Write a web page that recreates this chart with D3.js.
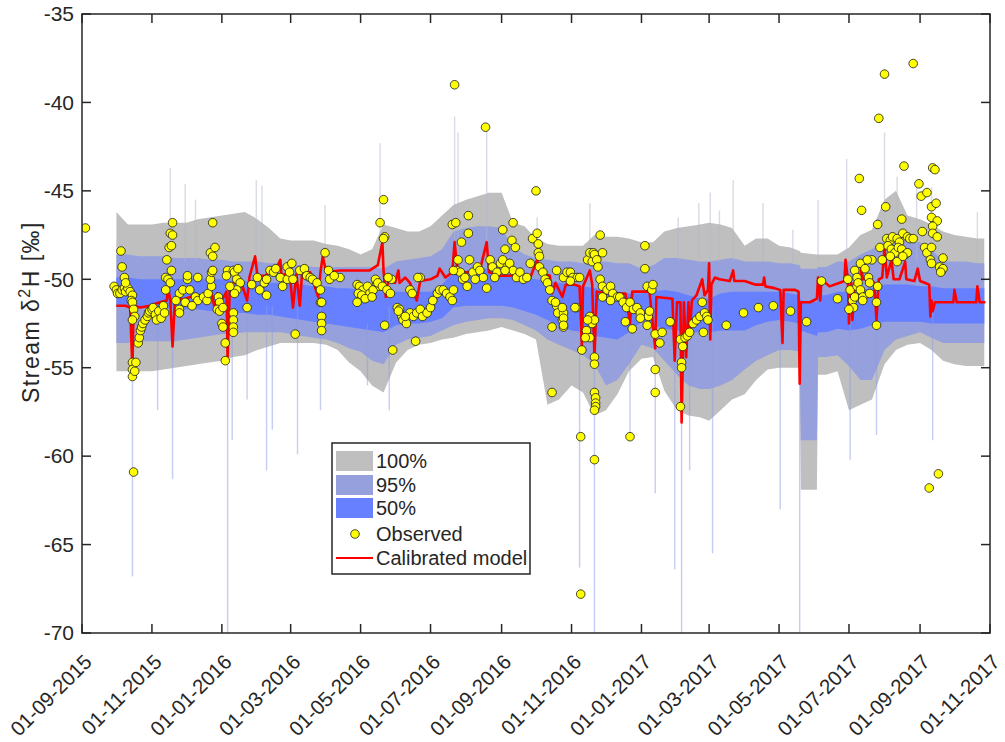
<!DOCTYPE html>
<html><head><meta charset="utf-8">
<script src="https://cdn.jsdelivr.net/npm/d3@7"></script>
<style>
body{margin:0;background:#fff;}
text{font-family:"Liberation Sans",Arial,Helvetica,sans-serif;fill:#262626;}
</style>
</head><body>
<svg id="chart" width="1005" height="742"></svg>
<script>
// ---------------- data ----------------
const START = "2015-09-01";           // day 0 of every *Day array
const END = "2017-11-01";
const yTicks = [-70, -65, -60, -55, -50, -45, -40, -35];
const xTickLabelFormat = "%d-%m-%Y";
const legendLabels = ["100%", "95%", "50%", "Observed", "Calibrated model"];

// uncertainty bands (days since START)
const bandDay = [30,40,50,61,71,81,91,101,111,122,132,142,153,163,173,182,192,202,213,223,233,243,253,263,274,284,294,304,314,324,335,345,355,366,376,386,396,406,416,427,437,447,457,467,477,488,498,508,519,529,539,547,557,567,578,588,598,608,618,626,627,641,642,649,659,669,679,689,700,710,720,731,741,751,761,771,781,787];
const p100Hi = [-46.2,-46.9,-46.9,-46.9,-46.8,-46.8,-46.8,-46.6,-46.5,-46.4,-46.3,-46.2,-46.6,-47.1,-47.7,-47.8,-47.8,-47.8,-48.0,-48.1,-48.3,-48.6,-48.3,-46.9,-47.1,-47.3,-47.3,-47.0,-46.4,-45.8,-45.5,-45.3,-45.1,-45.1,-46.8,-47.0,-47.7,-48.0,-48.1,-48.1,-48.1,-47.5,-47.6,-47.6,-47.7,-47.9,-47.9,-47.3,-47.1,-47.0,-46.9,-46.8,-46.9,-47.1,-48.1,-47.7,-47.7,-48.1,-48.2,-48.4,-48.5,-48.6,-48.6,-48.6,-48.6,-48.2,-47.5,-47.2,-45.5,-45.0,-46.4,-46.6,-46.9,-47.3,-47.5,-47.6,-47.7,-47.7];
const p95Hi = [-48.6,-48.6,-48.7,-48.7,-48.7,-48.8,-48.8,-48.8,-48.9,-48.9,-49.0,-49.0,-49.0,-49.1,-49.1,-49.2,-49.2,-49.3,-49.3,-49.3,-49.3,-49.3,-49.3,-49.4,-49.0,-48.9,-48.8,-48.7,-48.3,-47.3,-47.1,-47.0,-47.0,-47.1,-48.2,-48.6,-48.8,-48.9,-49.0,-49.0,-49.1,-49.0,-49.0,-49.1,-49.1,-49.4,-49.2,-48.8,-48.8,-48.9,-49.0,-49.0,-48.9,-48.8,-49.0,-49.0,-49.0,-49.1,-49.1,-49.2,-49.4,-49.4,-49.3,-49.3,-49.0,-49.0,-48.6,-48.3,-47.8,-47.7,-47.8,-47.9,-48.3,-49.0,-49.0,-49.0,-49.1,-49.1];
const p50Hi = [-49.9,-49.9,-50.0,-50.0,-50.0,-50.0,-50.0,-50.0,-50.0,-50.0,-50.1,-50.1,-50.2,-50.2,-50.2,-50.3,-50.3,-50.4,-50.4,-50.5,-50.5,-50.6,-50.7,-50.7,-50.7,-50.7,-50.7,-50.7,-50.3,-49.6,-49.5,-49.4,-49.4,-49.5,-49.8,-49.9,-50.0,-50.1,-50.2,-50.3,-50.4,-50.5,-50.6,-50.7,-50.8,-50.8,-50.7,-50.6,-50.7,-50.9,-51.1,-51.1,-50.8,-50.7,-50.7,-50.7,-50.7,-50.7,-50.8,-50.9,-51.2,-51.3,-50.9,-50.9,-50.7,-50.7,-50.6,-50.5,-50.3,-50.3,-50.3,-50.4,-50.4,-50.5,-50.5,-50.5,-50.5,-50.5];
const p50Lo = [-51.5,-51.6,-51.6,-51.6,-51.6,-51.7,-51.7,-51.7,-51.8,-51.8,-51.9,-51.9,-52.0,-52.0,-52.1,-52.2,-52.3,-52.4,-52.5,-52.6,-52.7,-52.8,-52.9,-53.0,-52.6,-52.5,-52.5,-52.4,-52.2,-51.6,-51.5,-51.5,-51.5,-51.5,-51.6,-51.8,-52.0,-52.3,-52.6,-52.9,-53.0,-53.2,-53.3,-53.4,-53.0,-52.4,-52.6,-52.8,-52.9,-53.0,-53.0,-53.0,-52.9,-52.9,-52.9,-52.6,-52.4,-52.3,-52.4,-52.5,-52.9,-53.2,-53.0,-53.0,-52.8,-52.9,-52.8,-52.6,-52.4,-52.4,-52.4,-52.4,-52.5,-52.5,-52.5,-52.5,-52.5,-52.5];
const p95Lo = [-53.6,-53.6,-53.5,-53.5,-53.5,-53.5,-53.4,-53.3,-53.2,-53.1,-53.1,-53.0,-53.0,-53.0,-53.0,-53.1,-53.2,-53.3,-53.4,-53.6,-53.9,-54.1,-54.6,-54.8,-53.7,-53.4,-53.3,-53.2,-52.9,-52.6,-52.4,-52.3,-52.2,-52.2,-52.3,-52.6,-52.9,-53.4,-53.7,-54.0,-54.3,-54.8,-56.0,-55.7,-54.8,-53.7,-53.9,-54.6,-55.4,-56.0,-56.2,-56.2,-56.0,-55.7,-55.1,-54.6,-54.3,-54.0,-54.0,-54.1,-59.1,-59.1,-54.4,-54.4,-54.3,-54.9,-55.7,-55.7,-54.0,-53.4,-53.2,-53.0,-53.3,-53.6,-53.6,-53.6,-53.6,-53.6];
const p100Lo = [-55.2,-55.2,-55.2,-55.2,-55.1,-55.0,-54.9,-54.8,-54.7,-54.6,-54.4,-54.3,-54.0,-53.8,-53.6,-53.6,-53.6,-53.6,-53.7,-54.0,-54.7,-55.2,-56.0,-56.4,-54.7,-54.0,-53.7,-53.6,-53.4,-53.3,-53.1,-53.0,-52.9,-52.7,-52.9,-53.1,-53.4,-57.1,-56.8,-56.0,-56.4,-57.7,-57.4,-56.5,-55.2,-54.5,-54.4,-56.3,-57.4,-57.7,-57.8,-58.0,-57.4,-56.8,-56.5,-55.7,-55.1,-55.0,-55.0,-55.0,-61.9,-61.9,-55.4,-55.4,-55.2,-57.4,-57.1,-56.8,-54.8,-54.0,-53.7,-53.6,-54.0,-54.6,-54.8,-54.9,-54.9,-54.9];

// short-lived ensemble excursions (days since START)
const spikeDay = [44,66,77,79,90,99,127,131,144,152,157,161,166,188,208,212,249,260,268,325,328,353,397,434,443,447,478,500,517,520,523,530,538,548,550,556,568,594,609,620,626,642,667,670,693,700,711,728,741,742,781];
const spikeHi  = [-51.5,-51.5,-43.7,-51.5,-44.6,-45.5,-51.5,-51.5,-51.5,-44.4,-44.7,-51.5,-51.5,-51.5,-51.5,-45.8,-52.5,-42.3,-51.5,-40.8,-41.7,-41.4,-46.5,-51.5,-45.7,-51.5,-51.5,-51.5,-51.5,-46.5,-51.5,-51.5,-45.7,-45.1,-51.5,-46.1,-44.4,-45.7,-51.5,-47.2,-51.5,-45.5,-43.2,-51.5,-51.5,-41.7,-44.2,-44.6,-44.8,-51.5,-46.2];
const spikeLo  = [-66.8,-57.4,-49.0,-61.3,-49.0,-49.0,-70.0,-59.1,-56.8,-49.0,-49.0,-60.8,-58.5,-59.9,-57.4,-49.0,-56.0,-49.5,-57.4,-49.0,-49.0,-49.0,-49.0,-66.3,-49.0,-70.0,-58.9,-62.1,-66.4,-49.0,-70.0,-60.8,-49.0,-49.0,-65.5,-49.0,-49.0,-49.0,-63.0,-49.0,-70.0,-49.0,-49.0,-60.2,-58.8,-49.0,-49.0,-49.0,-49.0,-59.1,-49.0];

// calibrated model
const modelDay = [30,38,42,44,45,51,59,68,74,75,77,79,81,90,99,107,113,116,118,122,126,127,129,133,138,144,146,151,153,160,164,168,173,174,181,184,187,190,192,199,206,208,210,213,225,238,251,258,262,263,265,267,273,276,277,282,286,292,295,304,310,312,317,323,325,327,330,338,347,353,355,365,373,382,391,397,399,408,410,413,419,422,429,434,436,437,443,445,447,449,460,474,478,480,495,500,501,515,517,519,522,523,525,527,529,530,532,536,541,543,546,547,548,549,552,556,565,568,569,578,587,594,595,596,604,609,611,612,622,625,626,627,635,641,642,644,645,652,661,665,666,668,669,671,672,674,679,680,681,687,691,693,695,698,700,702,706,708,713,718,719,726,729,731,735,739,740,741,742,744,748,757,760,761,763,770,780,781,783,788];
const modelVal = [-51.5,-51.5,-51.6,-55.1,-51.5,-51.6,-51.5,-51.3,-51.2,-50.4,-51.2,-53.8,-51.2,-51.1,-50.9,-50.9,-50.8,-51.7,-50.8,-51.2,-50.7,-54.4,-50.3,-50.2,-50.0,-51.2,-49.9,-48.7,-49.8,-49.8,-49.5,-49.6,-48.9,-49.8,-49.6,-51.6,-49.7,-51.5,-49.6,-49.6,-51.0,-49.6,-48.7,-49.6,-49.5,-49.5,-49.5,-49.2,-47.9,-49.5,-51.0,-50.1,-50.2,-49.5,-50.2,-49.9,-50.2,-51.2,-50.1,-50.0,-49.8,-49.4,-49.9,-49.6,-47.9,-49.2,-49.6,-49.6,-49.5,-47.9,-49.6,-49.8,-49.8,-49.7,-49.9,-48.9,-49.6,-49.8,-50.8,-50.2,-51.0,-50.3,-50.3,-50.4,-53.8,-50.4,-49.5,-50.3,-54.4,-50.7,-50.8,-50.8,-52.5,-50.7,-50.7,-53.9,-51.0,-51.1,-54.6,-51.3,-51.3,-58.1,-51.3,-54.4,-51.3,-53.0,-51.2,-50.9,-50.0,-50.9,-50.6,-49.1,-53.4,-50.3,-49.9,-50.0,-50.1,-49.5,-50.1,-50.1,-50.3,-50.3,-49.9,-50.4,-50.5,-50.6,-53.6,-50.6,-50.6,-50.7,-55.9,-51.3,-51.3,-51.1,-49.9,-51.2,-50.0,-50.4,-50.2,-50.1,-48.9,-50.0,-52.5,-50.2,-52.3,-50.2,-50.0,-49.3,-50.0,-50.0,-50.2,-52.3,-50.0,-49.9,-48.2,-49.9,-48.9,-50.0,-50.0,-49.0,-50.0,-50.1,-49.4,-50.1,-50.2,-50.3,-52.1,-51.2,-51.8,-51.3,-51.3,-51.3,-51.3,-50.6,-51.3,-51.3,-51.3,-50.4,-51.3,-51.3];

// observations
const obsDay = [3,28,30,31,33,35,37,38,40,42,44,43,44,34,35,37,38,45,46,44,44,44,44,46,47,45,49,50,51,52,53,55,57,58,59,61,62,64,65,67,69,71,72,79,77,79,76,78,74,78,73,75,77,73,85,88,92,94,99,101,106,109,110,113,112,113,114,112,114,116,114,101,92,85,85,82,90,96,119,120,118,120,123,122,123,132,132,132,132,125,125,127,132,133,136,135,138,135,133,129,126,144,148,155,159,161,164,167,169,173,175,179,179,183,181,184,186,161,153,190,194,196,199,201,205,208,208,209,209,209,209,212,215,216,225,220,240,242,245,249,251,254,257,260,241,244,247,253,240,256,258,262,266,269,270,267,260,263,264,263,264,271,275,277,279,280,283,286,289,292,295,297,301,304,306,310,312,315,318,321,323,324,286,288,295,282,276,291,293,323,326,337,337,325,352,327,330,332,336,338,341,345,347,350,353,356,358,362,365,367,371,373,376,379,382,385,388,391,324,328,331,334,343,360,369,367,375,376,378,369,396,393,397,398,398,399,399,402,404,406,408,410,414,410,414,415,419,420,420,419,420,423,426,428,432,434,426,431,420,420,413,410,430,436,435,435,441,443,445,446,447,449,450,452,454,443,445,440,443,447,439,441,447,447,447,448,448,448,447,447,452,454,458,461,463,467,469,472,475,478,481,484,487,454,461,474,480,493,494,487,478,491,491,493,497,498,495,500,504,506,500,500,513,522,524,526,528,530,533,536,539,541,543,545,546,542,523,523,522,562,577,590,603,618,632,645,659,668,670,672,673,674,676,674,676,677,679,681,681,669,678,680,679,683,686,687,689,685,693,693,694,687,695,700,725,694,701,696,702,705,707,711,713,716,720,722,725,703,706,709,712,715,718,720,711,716,705,698,715,717,733,730,732,737,741,745,741,746,742,742,746,742,744,735,737,740,741,751,748,750,751,749,741,747,739];
const obsVal = [-47.1,-50.4,-50.6,-50.8,-50.8,-50.6,-50.5,-50.7,-50.5,-50.7,-50.9,-51.2,-51.3,-48.4,-49.3,-49.9,-50.2,-51.7,-52.1,-52.3,-54.7,-55.1,-55.5,-55.2,-54.7,-60.9,-53.6,-53.3,-52.9,-52.7,-52.5,-52.3,-52.1,-51.9,-51.8,-51.7,-51.6,-52.0,-52.3,-51.8,-52.2,-51.5,-51.9,-46.8,-47.4,-47.5,-48.2,-48.1,-48.9,-49.5,-49.9,-50.0,-50.2,-50.6,-50.8,-50.6,-50.0,-50.6,-51.0,-51.2,-51.0,-51.2,-50.8,-50.4,-50.0,-49.6,-49.5,-48.5,-48.7,-48.2,-46.8,-49.9,-49.8,-51.7,-51.9,-51.2,-51.3,-51.5,-51.0,-51.3,-51.7,-51.8,-51.6,-52.5,-52.7,-51.9,-52.3,-52.7,-53.0,-53.6,-54.6,-49.5,-49.5,-49.6,-49.4,-50.0,-50.2,-50.6,-50.8,-50.4,-49.8,-51.6,-50.3,-50.6,-50.2,-50.0,-49.5,-49.6,-49.4,-49.9,-50.4,-50.0,-49.3,-49.1,-49.6,-50.0,-53.1,-50.9,-49.9,-49.5,-49.4,-49.8,-49.9,-50.0,-50.2,-50.6,-51.3,-51.3,-52.1,-52.5,-52.9,-48.5,-49.5,-50.0,-49.9,-49.8,-50.3,-50.4,-50.6,-50.4,-50.8,-50.6,-50.2,-50.4,-50.8,-50.9,-51.1,-51.0,-51.3,-50.0,-50.2,-50.4,-50.6,-50.8,-50.0,-49.9,-46.8,-45.5,-47.6,-47.7,-52.6,-54.0,-51.6,-51.7,-52.1,-52.3,-52.5,-51.9,-52.1,-51.9,-51.7,-52.1,-51.9,-51.6,-51.2,-50.8,-50.6,-50.6,-50.8,-51.0,-51.2,-50.6,-50.6,-50.8,-49.9,-52.1,-51.8,-53.5,-49.9,-46.9,-46.8,-46.4,-47.4,-39.0,-41.4,-49.5,-49.6,-50.0,-50.4,-48.9,-49.6,-49.3,-49.5,-49.9,-50.5,-48.9,-49.3,-49.6,-49.1,-48.9,-49.3,-49.1,-49.5,-49.9,-49.6,-50.0,-49.9,-49.1,-49.5,-48.9,-47.9,-49.9,-50.0,-49.9,-49.5,-47.2,-47.8,-46.8,-48.2,-48.3,-45.0,-47.7,-47.4,-48.0,-48.5,-48.7,-49.3,-49.6,-50.0,-50.2,-50.6,-51.2,-49.5,-56.4,-51.5,-51.9,-52.3,-52.7,-51.9,-51.6,-49.9,-49.6,-49.6,-49.9,-49.9,-49.9,-50.1,-51.6,-52.2,-52.6,-51.3,-52.7,-51.6,-54.0,-58.9,-67.8,-48.9,-48.5,-49.0,-48.5,-48.6,-48.9,-49.3,-47.5,-48.5,-52.1,-52.5,-52.9,-53.3,-52.3,-53.3,-52.3,-54.4,-54.8,-56.4,-56.7,-57.0,-57.2,-57.4,-60.2,-50.0,-50.4,-50.6,-50.4,-50.8,-51.0,-51.0,-51.3,-51.6,-51.3,-51.7,-51.6,-51.9,-51.0,-51.2,-52.4,-52.8,-52.6,-52.1,-52.2,-58.9,-48.1,-49.4,-50.4,-50.6,-50.3,-51.8,-53.1,-53.6,-53.0,-55.1,-56.4,-52.4,-53.4,-53.8,-53.3,-53.2,-53.0,-52.5,-52.3,-52.1,-51.3,-51.9,-52.1,-52.3,-53.0,-54.7,-55.0,-57.2,-52.6,-51.9,-51.6,-51.5,-51.8,-52.4,-50.1,-51.1,-50.0,-50.6,-51.2,-51.6,-51.0,-50.4,-49.5,-49.9,-50.2,-50.6,-51.0,-51.2,-51.7,-44.3,-46.1,-49.1,-49.4,-49.9,-50.2,-48.9,-48.9,-51.3,-52.6,-50.4,-50.8,-40.9,-38.4,-37.8,-46.9,-45.9,-48.2,-47.7,-47.8,-47.6,-47.7,-47.9,-47.4,-47.6,-47.7,-47.7,-48.1,-48.3,-48.5,-48.2,-48.3,-48.6,-48.5,-49.0,-48.7,-48.7,-48.9,-46.6,-43.6,-47.3,-44.6,-45.3,-45.1,-45.9,-45.7,-46.5,-46.7,-47.0,-47.4,-47.6,-43.7,-43.8,-48.2,-48.5,-48.9,-48.2,-48.8,-49.3,-49.5,-49.4,-49.6,-49.1,-61.0,-61.8];

// ---------------- drawing ----------------
const W = 1005, H = 742;
const M = {left: 82, right: 990, top: 14, bottom: 633};
const t0 = d3.utcParse("%Y-%m-%d")(START);
const t1 = d3.utcParse("%Y-%m-%d")(END);
const toDate = d => d3.utcDay.offset(t0, d);

const x = d3.scaleUtc().domain([t0, t1]).range([M.left, M.right]);
const y = d3.scaleLinear().domain([-70, -35]).range([M.bottom, M.top]);

const svg = d3.select("#chart");
svg.append("rect").attr("width", W).attr("height", H).attr("fill", "#fff");

svg.append("defs").append("clipPath").attr("id", "clip")
  .append("rect").attr("x", M.left).attr("y", M.top)
  .attr("width", M.right - M.left).attr("height", M.bottom - M.top);

const plot = svg.append("g").attr("clip-path", "url(#clip)");

const bands = [
  {lo: p100Lo, hi: p100Hi, color: "#bfbfbf"},
  {lo: p95Lo,  hi: p95Hi,  color: "#96a0dc"},
  {lo: p50Lo,  hi: p50Hi,  color: "#6680ff"}
];
bands.forEach(b => {
  const area = d3.area()
    .x((d, i) => x(toDate(bandDay[i])))
    .y0((d, i) => y(b.lo[i]))
    .y1((d, i) => y(b.hi[i]));
  plot.append("path").datum(bandDay).attr("d", area).attr("fill", b.color);
});

// thin excursions
plot.append("g").selectAll("rect").data(spikeDay).join("rect")
  .attr("x", (d) => x(toDate(d)) - 0.7)
  .attr("width", 1.4)
  .attr("y", (d, i) => y(spikeHi[i]))
  .attr("height", (d, i) => y(spikeLo[i]) - y(spikeHi[i]))
  .attr("fill", (d, i) => spikeLo[i] < -51 ? "#8f9be6" : "#b4b7cc")
  .attr("opacity", 0.5);

// model line
const line = d3.line()
  .x((d, i) => x(toDate(modelDay[i])))
  .y((d, i) => y(modelVal[i]));
plot.append("path").datum(modelDay).attr("d", line)
  .attr("fill", "none").attr("stroke", "#ff0000").attr("stroke-width", 2.6)
  .attr("stroke-linejoin", "round");

// observations
plot.append("g").selectAll("circle").data(obsDay).join("circle")
  .attr("cx", d => x(toDate(d)))
  .attr("cy", (d, i) => y(obsVal[i]))
  .attr("r", 4.3)
  .attr("fill", "#ffff00").attr("stroke", "#1a1a1a").attr("stroke-width", 0.8);

// ---------------- axes ----------------
const axisColor = "#262626";
const tickLen = 9;
const fs = 21;
const ax = svg.append("g");
ax.append("rect").attr("x", M.left).attr("y", M.top)
  .attr("width", M.right - M.left).attr("height", M.bottom - M.top)
  .attr("fill", "none").attr("stroke", axisColor).attr("stroke-width", 1.5);

const xTicks = d3.utcMonth.every(2).range(t0, d3.utcDay.offset(t1, 1));
const fmt = d3.utcFormat(xTickLabelFormat);
xTicks.forEach(t => {
  const px = x(t);
  ax.append("line").attr("x1", px).attr("x2", px).attr("y1", M.bottom).attr("y2", M.bottom - tickLen)
    .attr("stroke", axisColor).attr("stroke-width", 1.5);
  ax.append("line").attr("x1", px).attr("x2", px).attr("y1", M.top).attr("y2", M.top + tickLen)
    .attr("stroke", axisColor).attr("stroke-width", 1.5);
  ax.append("text").attr("transform", `translate(${px + 6},${M.bottom + 25}) rotate(-45)`)
    .attr("text-anchor", "end").attr("dy", "0.35em").attr("font-size", 20.5).text(fmt(t));
});
yTicks.forEach(v => {
  const py = y(v);
  ax.append("line").attr("x1", M.left).attr("x2", M.left + tickLen).attr("y1", py).attr("y2", py)
    .attr("stroke", axisColor).attr("stroke-width", 1.5);
  ax.append("line").attr("x1", M.right).attr("x2", M.right - tickLen).attr("y1", py).attr("y2", py)
    .attr("stroke", axisColor).attr("stroke-width", 1.5);
  ax.append("text").attr("x", M.left - 8).attr("y", py).attr("dy", "0.35em")
    .attr("text-anchor", "end").attr("font-size", fs).text(v);
});

// y label
const yl = ax.append("text").attr("transform", "translate(39,312) rotate(-90)")
  .attr("text-anchor", "middle").attr("font-size", 23).attr("letter-spacing", 1.5);
yl.append("tspan").text("Stream \u03B4");
yl.append("tspan").attr("font-size", 16).attr("dy", -9).text("2");
yl.append("tspan").attr("dy", 9).text("H [\u2030]");

// ---------------- legend ----------------
const lg = svg.append("g");
lg.append("rect").attr("x", 332).attr("y", 443).attr("width", 198).attr("height", 131)
  .attr("fill", "#fff").attr("stroke", axisColor).attr("stroke-width", 1.5);
const rowY = [461, 485, 508, 534, 558];
const patchCols = ["#bfbfbf", "#96a0dc", "#6680ff"];
legendLabels.forEach((lab, i) => {
  const cy = rowY[i];
  if (i < 3) {
    lg.append("rect").attr("x", 336).attr("y", cy - 10).attr("width", 37).attr("height", 20).attr("fill", patchCols[i]);
  } else if (i === 3) {
    lg.append("circle").attr("cx", 355).attr("cy", cy).attr("r", 4.3)
      .attr("fill", "#ffff00").attr("stroke", "#1a1a1a").attr("stroke-width", 0.8);
  } else {
    lg.append("line").attr("x1", 336).attr("x2", 373).attr("y1", cy).attr("y2", cy)
      .attr("stroke", "#ff0000").attr("stroke-width", 2);
  }
  lg.append("text").attr("x", 376).attr("y", cy).attr("dy", "0.35em").attr("font-size", 20).text(lab);
});
</script>
</body></html>
